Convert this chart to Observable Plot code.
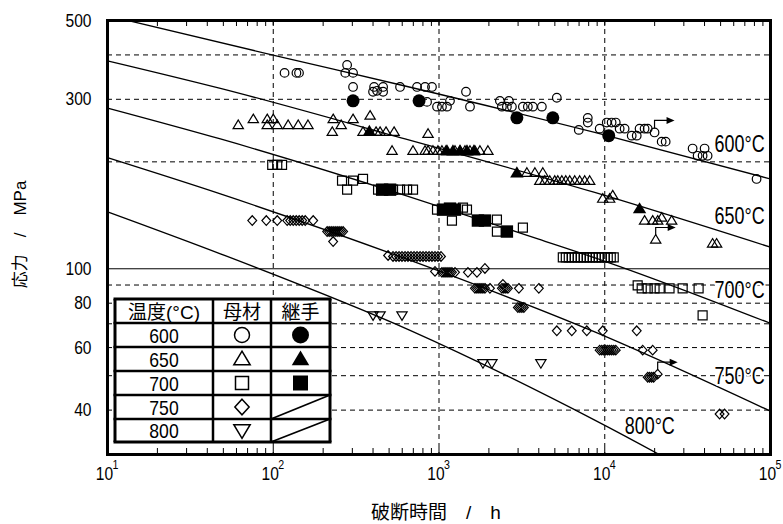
<!DOCTYPE html>
<html><head><meta charset="utf-8">
<script src="https://cdn.jsdelivr.net/npm/d3@7"></script>
<script src="https://cdn.jsdelivr.net/npm/@observablehq/plot@0.6"></script>
<style>
body{margin:0;background:#fff;}
#chart{position:relative;width:783px;height:524px;}
</style></head><body><div id="chart"></div>
<script>
const FONT = '"Liberation Sans","Noto Sans CJK JP",sans-serif';

// ---- data (hours, MPa) ----
const temps = ["600","650","700","750","800"];
const tempLabels = ["600°C","650°C","700°C","750°C","800°C"];
const labelHours = [46000,46000,46000,46000,13200];
const labelMPa = [224,139.8,86.9,49.7,35.9];
const legendHeader = ["温度(°C)","母材","継手"];
const xDecades = [10,100,1000,10000,100000];
const xGrid = [100,1000,10000];
const xMinor = [10,20,30,40,50,60,70,80,90,100,200,300,400,500,600,700,800,900,1000,2000,3000,4000,5000,6000,7000,8000,9000,10000,20000,30000,40000,50000,60000,70000,80000,90000,100000];
const yTickValues = [500,300,100,80,60,40];
const yGridDashed = [40,50,60,70,80,90,200,300,400];
const yGridSolid = [100];

const curve600 = [[10,516],[105.7,397],[624,327],[8700,242],[100000,179]];
const curve650 = [[10,385],[48,322],[624,232],[8700,164],[100000,115]];
const curve700 = [[10,283.5],[48,232],[624,161],[3950,121.4],[9730,105.5],[100000,70.2]];
const curve750 = [[10,205.4],[48,162.4],[624,106.9],[8700,66.4],[100000,39.7]];
const curve800 = [[10,144.7],[48,110.2],[669,67.1],[8700,37.5],[100000,20.1]];

const base600 = [[117,356],[138,356],[143,356],[279,375],[272,356],[303,356],[303,325],[406,325],[400,315],[423,317],[460,325],[460,315],[582,325],[737,325],[824,325],[907,325],[847,295],[973,286],[1042,286],[1117,286],[1165,297],[1455,315],[1538,286],[2330,297],[2396,286],[2568,286],[2641,297],[2753,286],[3207,286],[3436,286],[3684,286],[4174,286],[5138,303],[6970,246],[7900,266],[7900,258],[9320,248],[10280,258],[11000,258],[11650,258],[12300,248],[13180,248],[14540,237],[15590,237],[16220,248],[17390,248],[18160,248],[19970,242],[22050,228],[23310,228],[33890,218],[40030,218],[36330,208],[38940,208],[41740,208],[82400,179]];
const joint600 = [[303,297],[758,297],[2950,266],[4860,266],[10570,237]];

const base650 = [[61.5,254],[75.8,264],[92,264],[100,264],[92,254],[105.7,254],[123,254],[141.5,254],[162,254],[230,264],[227,243],[257,254],[303,264],[384,270],[348,243],[417,243],[441,243],[479,243],[536,243],[521,215],[697,215],[859,240],[824,215],[859,215],[920,215],[986,215],[1042,215],[1102,215],[1249,215],[1339,215],[1435,215],[1538,215],[1648,215],[1766,215],[1973,215],[3390,186.5],[3790,186.5],[4230,186.5],[4057,177],[4348,177],[4660,177],[4994,177],[5210,177],[5510,177],[5820,177],[6150,177],[6590,177],[7060,177],[7570,177],[8110,177],[9725,157.6],[10700,157.6],[11170,161],[17390,136.7],[19460,136.7],[20860,136.7],[22050,139.4],[25330,136.7],[20290,120.9],[44730,117.8],[47290,117.8]];
const joint650 = [[380,244],[1117,215],[1214,215],[1339,215],[1475,215],[1624,215],[2950,186.5],[16220,147.7]];

const base700 = [[98.6,196],[105.7,196],[113,196],[260,177],[279,167],[303,177],[348,179],[429,167],[486,167],[528,167],[582,167],[642,167],[697,167],[973,146.7],[1395,148.7],[1475,146.7],[1197,136.7],[2236,137.6],[2236,127.3],[3207,130.6],[5585,107.6],[5823,107.6],[6068,107.6],[6326,107.6],[6595,107.6],[6875,107.6],[7168,107.6],[7472,107.6],[7791,107.6],[8120,107.6],[8470,107.6],[8830,107.6],[9205,107.6],[9592,107.6],[10000,107.6],[10425,107.6],[10870,107.6],[11330,107.6],[15800,89.8],[16710,88.1],[18160,88.1],[19970,88.1],[21450,88.1],[24590,88.1],[29510,88.1],[36830,88.1],[38940,73.9]];
const joint700 = [[454,167],[507,167],[1057,146.7],[1165,147.7],[1249,146.7],[1717,136.7],[1893,136.7],[2568,127.3]];

const base750 = [[74.7,136.7],[90.8,136.7],[105.7,136.7],[121.4,136.7],[126.6,136.7],[132,136.7],[137.6,136.7],[143.4,136.7],[149.5,136.7],[155.9,136.7],[174.2,136.7],[211.5,127.3],[217.5,127.3],[223.6,127.3],[229.8,127.3],[236.3,127.3],[242.9,127.3],[249.7,127.3],[256.8,127.3],[264,127.3],[229.8,119.3],[493,109],[528,108.3],[551,108.3],[574,108.3],[598,108.3],[624,108.3],[650,108.3],[678,108.3],[707,108.3],[737,108.3],[769,108.3],[801,108.3],[835,108.3],[871,108.3],[907,108.3],[946,108.3],[986,108.3],[1028,108.3],[946,98.3],[1042,97.7],[1072,97.7],[1102,97.7],[1133,97.7],[1165,97.7],[1197,97.7],[1249,97.7],[1495,97.7],[1694,97.7],[1893,100.2],[1648,88.1],[1694,88.1],[1742,88.1],[1791,88.1],[1841,88.1],[1893,88.1],[2029,88.1],[2430,90.4],[2396,88.1],[2464,88.1],[2533,88.1],[2604,88.1],[3034,88.1],[4003,88.1],[2991,77.8],[3075,77.8],[3162,77.8],[3251,77.8],[5138,66.9],[6326,66.9],[7791,66.9],[9725,66.9],[15590,66.9],[9319,59],[9592,59],[9862,59],[10140,59],[10425,59],[10705,59],[11010,59],[11330,59],[11650,59],[16940,59],[19460,59],[18160,49.5],[18640,49.5],[19190,49.5],[19730,49.5],[20860,50.5],[49300,39],[52830,39]];

const base800 = [[400,73.9],[441,73.9],[598,73.9],[1841,54.2],[2086,54.2],[4117,54.2]];

const runouts = [[19970,242],[20290,120.9],[20860,50.5]];

// ---- symbols ----
function mk(fn){ return {draw(ctx,size){ fn(ctx, Math.sqrt(size/Math.PI)); }}; }
const symCircle = mk((c,r)=>{c.moveTo(r,0);c.arc(0,0,r,0,2*Math.PI);c.closePath();});
const symTriUp = mk((c,r)=>{c.moveTo(0,-1.15*r);c.lineTo(1.2*r,0.85*r);c.lineTo(-1.2*r,0.85*r);c.closePath();});
const symTriDown = mk((c,r)=>{c.moveTo(0,1.15*r);c.lineTo(1.2*r,-0.85*r);c.lineTo(-1.2*r,-0.85*r);c.closePath();});
const symSquare = mk((c,r)=>{c.moveTo(-r,-r);c.lineTo(r,-r);c.lineTo(r,r);c.lineTo(-r,r);c.closePath();});
const symDiamond = mk((c,r)=>{c.moveTo(0,-1.2*r);c.lineTo(1.1*r,0);c.lineTo(0,1.2*r);c.lineTo(-1.1*r,0);c.closePath();});
const symFlag = mk((c,r)=>{const s=r/10;c.moveTo(0,-4*s);c.lineTo(0,-12*s);c.lineTo(13*s,-12*s);});
const symHead = mk((c,r)=>{const s=r/10;c.moveTo(20*s,-12*s);c.lineTo(12*s,-15.5*s);c.lineTo(12*s,-8.5*s);c.closePath();});

const series = [
  {data: base600, symbol: symCircle, r: 4.3, fill: "none"},
  {data: joint600, symbol: symCircle, r: 6.5, fill: "black"},
  {data: base650, symbol: symTriUp, r: 4.3, fill: "none"},
  {data: joint650, symbol: symTriUp, r: 5.6, fill: "black"},
  {data: base700, symbol: symSquare, r: 4.5, fill: "none"},
  {data: joint700, symbol: symSquare, r: 6.2, fill: "black"},
  {data: base750, symbol: symDiamond, r: 4.0, fill: "none"},
  {data: base800, symbol: symTriDown, r: 4.3, fill: "none"}
];
const curves = [curve600,curve650,curve700,curve750,curve800];

const chart = Plot.plot({
  width: 783, height: 524,
  marginLeft: 107, marginRight: 13, marginTop: 20, marginBottom: 70,
  style: {fontFamily: FONT, background: "white", color: "black", overflow: "visible"},
  x: {type: "log", domain: [10, 100000], axis: null},
  y: {type: "log", domain: [30, 500], axis: null},
  marks: [
    Plot.ruleX(xGrid, {stroke: "black", strokeWidth: 1, strokeDasharray: "5,4"}),
    Plot.ruleY(yGridDashed, {stroke: "black", strokeWidth: 1, strokeDasharray: "5,4"}),
    Plot.ruleY(yGridSolid, {stroke: "black", strokeWidth: 1}),
    Plot.tickX(xMinor, {x: d=>d, stroke: "black", strokeWidth: 1, insetBottom: 428}),
    Plot.tickX(xMinor, {x: d=>d, stroke: "black", strokeWidth: 1, insetTop: 428}),
    ...curves.map(c => Plot.line(c, {x: d=>d[0], y: d=>d[1], stroke: "black", strokeWidth: 1.3, curve: "monotone-x", clip: true})),
    ...series.map(s => Plot.dot(s.data, {x: d=>d[0], y: d=>d[1], symbol: s.symbol, r: s.r,
        fill: s.fill, stroke: s.fill === "none" ? "black" : "none", strokeWidth: 1.2})),
    Plot.dot(runouts, {x: d=>d[0], y: d=>d[1], symbol: symFlag, r: 10, fill: "none", stroke: "black", strokeWidth: 1.2}),
    Plot.dot(runouts, {x: d=>d[0], y: d=>d[1], symbol: symHead, r: 10, fill: "black", stroke: "none"}),
    Plot.text(tempLabels, {x: (d,i)=>labelHours[i], y: (d,i)=>labelMPa[i], text: d=>d, textAnchor: "start",
        fontSize: 23, fill: "black", stroke: "white", strokeWidth: 4}),
    Plot.frame({stroke: "black", strokeWidth: 3}),
    Plot.text(yTickValues, {y: d=>d, frameAnchor: "left", dx: -16, textAnchor: "end", text: d=>String(d), fontSize: 19}),
    Plot.text(xDecades, {x: d=>d, frameAnchor: "bottom", dy: 25, dx: -3, text: ()=>"10", fontSize: 19}),
    Plot.text(xDecades, {x: d=>d, frameAnchor: "bottom", dy: 14, dx: 5, textAnchor: "start",
        text: d=>String(Math.round(Math.log10(d))), fontSize: 13}),
    Plot.text(["破断時間　/　h"], {frameAnchor: "bottom", dy: 64, dx: -3, text: d=>d, fontSize: 19}),
    Plot.text(["応力　/　MPa"], {frameAnchor: "left", dx: -87, dy: -3, rotate: -90, textAnchor: "middle", text: d=>d, fontSize: 17})
  ]
});
document.getElementById("chart").appendChild(chart);

// condense numeric labels horizontally (narrow gothic look)
function condense(el, k) {
  const tr = el.getAttribute("transform");
  if (tr) { el.setAttribute("transform", tr + ` scale(${k},1)`); }
  else {
    const x = +(el.getAttribute("x") || 0), y = +(el.getAttribute("y") || 0);
    el.setAttribute("transform", `translate(${x},${y}) scale(${k},1) translate(${-x},${-y})`);
  }
}
d3.select(chart).selectAll("text").each(function(){
  const s = this.textContent;
  if (/^[0-9]+$/.test(s)) condense(this, 0.82);
  else if (/^[0-9]+°C$/.test(s)) condense(this, 0.78);
});

// ---- legend table ----
const svg = d3.select(chart);
const lg = svg.append("g").attr("font-family", FONT).attr("fill", "black");
const colX = [115,213,271,330], rowY = [299,323,347,371,395,419,442];
lg.append("rect").attr("x",colX[0]).attr("y",rowY[0]).attr("width",colX[3]-colX[0]).attr("height",rowY[6]-rowY[0]).attr("fill","white");
const baseSyms = [symCircle, symTriUp, symSquare, symDiamond, symTriDown];
const jointSyms = [symCircle, symTriUp, symSquare, null, null];
const legR = [7.5, 6.8, 6.5, 6.5, 6.8];
const jointR = [8.5, 7.3, 7.5];
const cx = i => (colX[i]+colX[i+1])/2, cy = j => (rowY[j]+rowY[j+1])/2;
legendHeader.forEach((h,i)=>{
  lg.append("text").attr("transform",`translate(${cx(i)},${cy(0)+1})`).attr("text-anchor","middle").attr("dominant-baseline","central")
    .attr("font-size",19).text(h);
});
temps.forEach((t,j)=>{
  const row = j+1;
  lg.append("text").attr("transform",`translate(${cx(0)},${cy(row)+1}) scale(0.88,1)`).attr("text-anchor","middle").attr("dominant-baseline","central")
    .attr("font-size",20).text(t);
  lg.append("path").attr("d", d3.symbol(baseSyms[j], Math.PI*legR[j]*legR[j])())
    .attr("transform",`translate(${cx(1)},${cy(row)})`).attr("fill","none").attr("stroke","black").attr("stroke-width",1.5);
  if (jointSyms[j]) {
    lg.append("path").attr("d", d3.symbol(jointSyms[j], Math.PI*jointR[j]*jointR[j])())
      .attr("transform",`translate(${cx(2)},${cy(row)})`).attr("fill","black");
  } else {
    lg.append("line").attr("x1",colX[2]).attr("y1",rowY[row+1]).attr("x2",colX[3]).attr("y2",rowY[row])
      .attr("stroke","black").attr("stroke-width",1.8);
  }
});
colX.forEach((x,i)=>{
  lg.append("line").attr("x1",x).attr("x2",x).attr("y1",rowY[0]).attr("y2",rowY[6]).attr("stroke","black")
    .attr("stroke-width", (i===0||i===3)?3:2.5);
});
rowY.forEach((y,i)=>{
  lg.append("line").attr("x1",colX[0]-1.5).attr("x2",colX[3]+1.5).attr("y1",y).attr("y2",y).attr("stroke","black")
    .attr("stroke-width", (i===0||i===6)?3:2.5);
});
</script></body></html>
